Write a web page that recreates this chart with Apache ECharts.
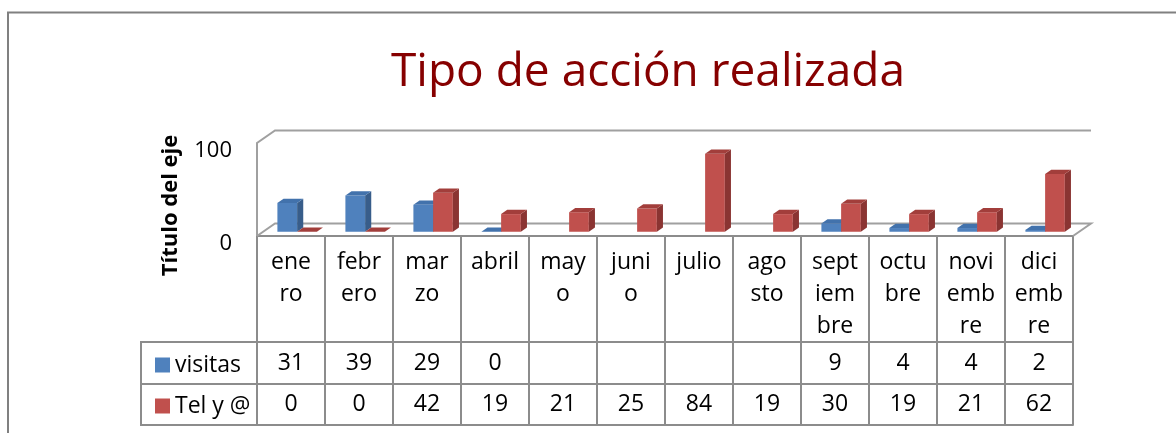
<!DOCTYPE html>
<html>
<head>
    <meta charset="UTF-8">
    <title>Tipo de acción realizada</title>
    <script src="https://cdn.jsdelivr.net/npm/echarts@6/dist/echarts.min.js"></script>
    <style>
        html, body { margin: 0; padding: 0; background: #fff; }
        #grafico { width: 1176px; height: 433px; }
    </style>
</head>
<body>
<div id="grafico"></div>
<script>
    // datos de la tabla
    var meses = ['enero', 'febrero', 'marzo', 'abril', 'mayo', 'junio', 'julio', 'agosto',
        'septiembre', 'octubre', 'noviembre', 'diciembre'];
    // como se ven partidos en la tabla
    var etiquetasMes = ['ene\nro', 'febr\nero', 'mar\nzo', 'abril', 'may\no', 'juni\no', 'julio',
        'ago\nsto', 'sept\niem\nbre', 'octu\nbre', 'novi\nemb\nre', 'dici\nemb\nre'];
    var visitas = [31, 39, 29, 0, null, null, null, null, 9, 4, 4, 2];
    var telArroba = [0, 0, 42, 19, 21, 25, 84, 19, 30, 19, 21, 62];
    var nombresSeries = ['visitas', 'Tel y @'];
    var ticksY = [0, 100];

    var FUENTE = '"Open Sans", sans-serif';
    var GRIS_TABLA = '#8c8c8c';
    var GRIS_PARED = '#a0a0a0';
    var FONDO_X = 18, FONDO_Y = 12.5;   // desplazamiento 3D de la pared del fondo
    var caraAzul = ['#4F81BD', '#385D8A', '#4272AC'];
    var caraRoja = ['#C0504D', '#8A3432', '#A23E3B'];

    var chart = echarts.init(document.getElementById('grafico'), null, {renderer: 'canvas'});

    // columna 3D: cara frontal, lateral y superior
    function columna3d(lado, caras) {
        return function (params, api) {
            var v = api.value(1);
            if (v == null || isNaN(v)) return;
            var cat = api.value(0);
            var base = api.coord([cat, 0]);
            var cima = api.coord([cat, v]);
            var banda = api.size([1, 0])[0];
            var ancho = banda * 0.29;
            var fx = FONDO_X * 0.34, fy = FONDO_Y * 0.34;
            var x0 = base[0] + fx + (lado < 0 ? -ancho : 0);
            var x1 = x0 + ancho;
            var yb = base[1] - fy, yt = cima[1] - fy;
            return {
                type: 'group',
                children: [
                    {type: 'rect', shape: {x: x0, y: yt, width: ancho, height: yb - yt}, style: {fill: caras[0]}},
                    {type: 'polygon', shape: {points: [[x1, yt], [x1 + fx, yt - fy], [x1 + fx, yb - fy], [x1, yb]]}, style: {fill: caras[1]}},
                    {type: 'polygon', shape: {points: [[x0, yt], [x1, yt], [x1 + fx, yt - fy], [x0 + fx, yt - fy]]}, style: {fill: caras[2]}}
                ]
            };
        };
    }

    // paredes y suelo del grafico 3D
    function paredes(params, api) {
        var c = params.coordSys;
        var l = c.x, r = c.x + c.width, t = c.y, b = c.y + c.height;
        var st = {stroke: GRIS_PARED, lineWidth: 2, fill: null};
        return {
            type: 'group',
            children: [
                {type: 'polyline', shape: {points: [[l, b], [l, t], [l + FONDO_X, t - FONDO_Y], [r + FONDO_X, t - FONDO_Y]]}, style: st},
                {type: 'polyline', shape: {points: [[l, b], [l + FONDO_X, b - FONDO_Y], [r + FONDO_X, b - FONDO_Y], [r, b]]}, style: st}
            ]
        };
    }

    var lineaTabla = {color: GRIS_TABLA, width: 2};

    function filaTabla(valores, offset, alto) {
        return {
            type: 'category', gridIndex: 0, position: 'bottom', offset: offset,
            data: meses,
            axisLine: {show: true, lineStyle: lineaTabla},
            axisTick: {show: alto > 0, length: alto, interval: 0, lineStyle: lineaTabla},
            axisLabel: {
                show: !!valores, interval: 0, margin: alto / 2, verticalAlign: 'middle',
                color: '#000', fontFamily: FUENTE, fontSize: 23,
                formatter: function (v, i) {
                    return valores && valores[i] != null ? String(valores[i]) : '';
                }
            },
            splitLine: {show: false}
        };
    }

    var option = {
        backgroundColor: '#fff',
        animation: false,
        title: {
            text: 'Tipo de acción realizada',
            left: 386, top: 45,
            textStyle: {color: '#860000', fontFamily: FUENTE, fontSize: 46, fontWeight: 'normal'}
        },
        legend: {
            data: nombresSeries,
            orient: 'vertical',
            left: 150, top: 348,
            icon: 'rect', itemWidth: 15, itemHeight: 15, itemGap: 17,
            selectedMode: false,
            textStyle: {color: '#000', fontFamily: FUENTE, fontSize: 23, lineHeight: 24}
        },
        grid: {left: 257, top: 143, width: 816, height: 93, outerBoundsMode: 'none'},
        xAxis: [
            {
                type: 'category', gridIndex: 0, position: 'bottom',
                data: meses,
                axisLine: {show: true, lineStyle: lineaTabla},
                axisTick: {show: true, length: 106, interval: 0, lineStyle: lineaTabla},
                axisLabel: {
                    interval: 0, margin: 10, verticalAlign: 'top', lineHeight: 32,
                    color: '#000', fontFamily: FUENTE, fontSize: 23,
                    formatter: function (v, i) { return etiquetasMes[i]; }
                },
                splitLine: {show: false}
            },
            filaTabla(visitas, 106, 42),
            filaTabla(telArroba, 148, 41),
            filaTabla(null, 189, 0)
        ],
        yAxis: {
            type: 'value', min: ticksY[0], max: ticksY[ticksY.length - 1], interval: 100,
            name: 'Título del eje', nameLocation: 'middle', nameGap: 75, nameRotate: 90,
            nameTextStyle: {color: '#000', fontFamily: FUENTE, fontSize: 22, fontWeight: 'bold', padding: [0, 32, 0, 0]},
            axisLine: {show: false}, axisTick: {show: false}, splitLine: {show: false},
            axisLabel: {color: '#000', fontFamily: FUENTE, fontSize: 22, margin: 25, verticalAlign: 'top', lineHeight: 16}
        },
        graphic: [
            // marco exterior
            {type: 'polyline', shape: {points: [[8, 433], [8, 12.5], [1176, 12.5]]}, style: {stroke: '#808080', lineWidth: 2, fill: null}},
            // celdas de la leyenda
            {type: 'polyline', shape: {points: [[257, 342], [141, 342], [141, 425], [257, 425]]}, style: {stroke: GRIS_TABLA, lineWidth: 2, fill: null}},
            {type: 'line', shape: {x1: 141, y1: 384, x2: 257, y2: 384}, style: {stroke: GRIS_TABLA, lineWidth: 2}}
        ],
        series: [
            {
                type: 'custom', name: 'paredes', clip: false, silent: true, z: 1,
                data: [[0, 0]], encode: {x: 0, y: 1},
                renderItem: paredes
            },
            {
                type: 'custom', name: nombresSeries[0], clip: false, z: 2,
                itemStyle: {color: caraAzul[0]},
                data: visitas.map(function (v, i) { return [i, v]; }),
                encode: {x: 0, y: 1},
                renderItem: columna3d(-1, caraAzul)
            },
            {
                type: 'custom', name: nombresSeries[1], clip: false, z: 3,
                itemStyle: {color: caraRoja[0]},
                data: telArroba.map(function (v, i) { return [i, v]; }),
                encode: {x: 0, y: 1},
                renderItem: columna3d(1, caraRoja)
            }
        ]
    };

    chart.setOption(option);
</script>
</body>
</html>
